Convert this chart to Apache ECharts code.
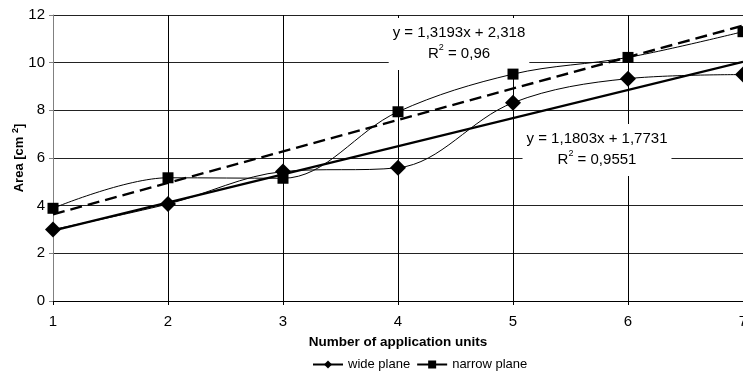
<!DOCTYPE html>
<html>
<head>
<meta charset="utf-8">
<script src="https://cdn.jsdelivr.net/npm/echarts@6/dist/echarts.min.js"></script>
<style>
  html, body { margin: 0; padding: 0; background: #fff; }
  #chart { width: 743px; height: 371px; }
</style>
</head>
<body>
<div id="chart"></div>
<script>
// Measured area per number of application units
const units = [1, 2, 3, 4, 5, 6, 7];
const widePlane = [3.00, 4.07, 5.43, 5.59, 8.32, 9.33, 9.50];
const narrowPlane = [3.89, 5.17, 5.15, 7.94, 9.52, 10.22, 11.30];

// Linear fits (slope, intercept, R²)
const wideFit = [1.1803, 1.7731, 0.9551];
const narrowFit = [1.3193, 2.318, 0.96];

const FONT = "'Liberation Sans', Arial, sans-serif";

const pairs = (xs, ys) => xs.map((x, i) => [x, ys[i]]);
const fitLine = (fit) => [units[0], units[units.length - 1]].map(x => [x, fit[0] * x + fit[1]]);
const dec = (v) => String(v).replace('.', ',');
const fitText = (fit) => 'y = ' + dec(fit[0]) + 'x + ' + dec(fit[1]) + '\nR{sup|2} = ' + dec(fit[2]);

const chart = echarts.init(document.getElementById('chart'), null, { renderer: 'canvas' });

// Equation box: white background hides the grid lines behind it
const eqText = (fit, cx, top, padX) => ({
  type: 'text',
  x: cx,
  y: top,
  z: 1,
  style: {
    text: fitText(fit),
    fill: '#000',
    font: '15px ' + FONT,
    align: 'center',
    verticalAlign: 'top',
    lineHeight: 21,
    backgroundColor: '#fff',
    padding: [4, padX, 6, padX],
    rich: {
      sup: { fontSize: 9, fontFamily: FONT, verticalAlign: 'top', padding: [0, 0, 9, 0] }
    }
  }
});

chart.setOption({
  animation: false,
  backgroundColor: '#fff',
  textStyle: { fontFamily: FONT },
  grid: { left: 53, right: 0, top: 15, bottom: 70, containLabel: false, outerBoundsMode: 'none' },
  xAxis: {
    type: 'value',
    min: 1, max: 7, interval: 1,
    name: 'Number of application units',
    nameLocation: 'middle',
    nameGap: 34,
    nameMoveOverlap: false,
    nameTextStyle: { fontWeight: 'bold', fontSize: 13.5, color: '#000', fontFamily: FONT },
    axisLine: { show: true, lineStyle: { color: '#000', width: 1 } },
    axisTick: { show: true, length: 4, lineStyle: { color: '#000' } },
    axisLabel: { color: '#000', fontSize: 15, margin: 13, fontFamily: FONT },
    splitLine: { show: true, lineStyle: { color: '#000', width: 1 } }
  },
  yAxis: {
    type: 'value',
    min: 0, max: 12, interval: 2,
    name: 'Area [cm {sup|2}]',
    nameLocation: 'middle',
    nameGap: 26,
    nameMoveOverlap: false,
    nameRotate: 90,
    nameTextStyle: {
      fontWeight: 'bold', fontSize: 13, color: '#000', fontFamily: FONT,
      rich: { sup: { fontSize: 9, fontWeight: 'bold', fontFamily: FONT, verticalAlign: 'top', padding: [0, 0, 7, 0] } }
    },
    axisLine: { show: true, lineStyle: { color: '#808080', width: 1 } },
    axisTick: { show: true, length: 4, lineStyle: { color: '#808080' } },
    axisLabel: { color: '#000', fontSize: 15, margin: 8, fontFamily: FONT },
    splitLine: { show: true, lineStyle: { color: '#222', width: 1 } }
  },
  legend: {
    data: ['wide plane', 'narrow plane'],
    bottom: 0,
    left: 312,
    itemWidth: 30,
    itemHeight: 10,
    itemGap: 6,
    textStyle: { color: '#000', fontSize: 13, fontFamily: FONT },
    padding: [0, 0, 0, 0]
  },
  graphic: [
    eqText(narrowFit, 459, 18, 4),
    eqText(wideFit, 597, 124, 4)
  ],
  series: [
    {
      name: 'wide plane trend',
      type: 'line',
      data: fitLine(wideFit),
      symbol: 'none',
      lineStyle: { color: '#000', width: 2.4 },
      z: 3,
      silent: true
    },
    {
      name: 'narrow plane trend',
      type: 'line',
      data: fitLine(narrowFit),
      symbol: 'none',
      lineStyle: { color: '#000', width: 2.4, type: [12, 6] },
      z: 3,
      silent: true
    },
    {
      name: 'wide plane',
      type: 'line',
      data: pairs(units, widePlane),
      smooth: 0.35,
      symbol: 'diamond',
      symbolSize: 16,
      itemStyle: { color: '#000' },
      lineStyle: { color: '#000', width: 1 },
      z: 4
    },
    {
      name: 'narrow plane',
      type: 'line',
      data: pairs(units, narrowPlane),
      smooth: 0.35,
      symbol: 'rect',
      symbolSize: 11,
      itemStyle: { color: '#000' },
      lineStyle: { color: '#000', width: 1 },
      z: 4
    }
  ]
});
</script>
</body>
</html>
